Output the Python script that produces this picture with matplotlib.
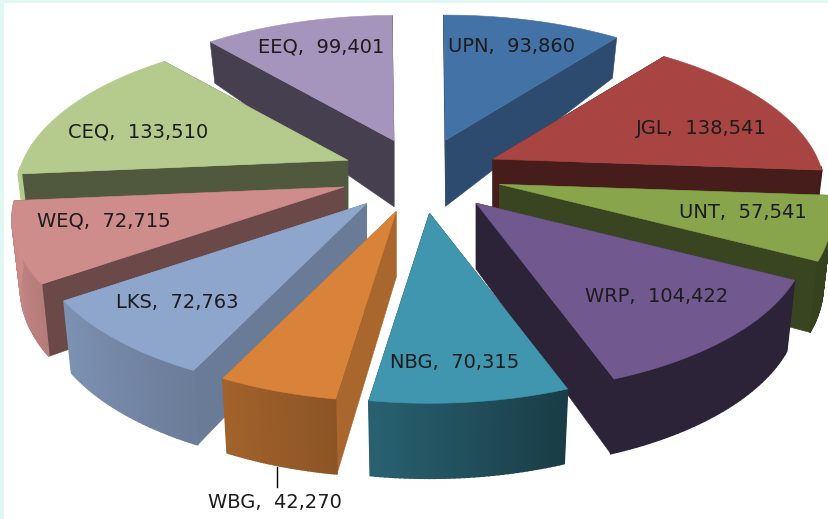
import numpy as np
from matplotlib import pyplot as plt
from matplotlib.colors import to_rgb
from matplotlib.patches import Polygon

categories = ['UPN', 'JGL', 'UNT', 'WRP', 'NBG', 'WBG', 'LKS', 'WEQ', 'CEQ', 'EEQ']
values = [93860, 138541, 57541, 104422, 70315, 42270, 72763, 72715, 133510, 99401]
colors = ['#4372a7', '#a84442', '#88a54b', '#71588f', '#3f96ae',
          '#d9833a', '#8fa6cc', '#ce8d8b', '#b5cb8e', '#a595bc']
# How dark the visible cut side of each slice is
face_shade = [0.66, 0.42, 0.42, 0.40, 0.40, 0.78, 0.74, 0.52, 0.44, 0.42]
# Label centres, in pixels
label_xy = [(512, 47), (701, 128), (743, 213), (657, 297), (455, 363),
            (275, 503), (177, 302), (104, 221), (138, 132), (321, 47)]

# Projection of the tilted pie, fitted by eye
center = (421, 174)
radius_x = 325
radius_y = 151
persp = 0.206
explode = 0.247
first_angle = -0.4


def project(theta):
    # Angle runs clockwise from 12 o'clock, result is pixels relative to apex
    x = np.sin(theta)
    y = -np.cos(theta)
    s = 1 / (1 - persp * y)
    return radius_x * x * s, radius_y * y * s


def depth(y):
    # Height of the pie on screen, grows towards the viewer
    return np.interp(y, [-1, -0.77, 0, 0.55, 1], [36, 41, 66, 72, 75])


def bottom(apex, dx, dy, y):
    return apex[0] + dx * 0.975, apex[1] + dy + depth(y)


def rim_shade(deg):
    return np.interp(deg, [118, 160, 189, 206, 236, 265], [0.40, 0.40, 0.65, 0.75, 0.88, 1.0])


def shaded(color, amount):
    return tuple(c * amount for c in to_rgb(color))


def add_poly(ax, points, color, lw=0.4):
    ax.add_patch(Polygon(points, closed=True, facecolor=color, edgecolor=color, linewidth=lw))


def draw_slice(ax, start, end, color, shade):
    mid = np.radians((start + end) / 2)
    # Pull the slice out of the middle along its own direction
    ex = explode * np.sin(mid)
    ey = -explode * np.cos(mid)
    s = 1 / (1 - persp * ey)
    apex = (center[0] + radius_x * ex * s, center[1] + radius_y * ey * s)

    # Cut sides first, the one further back goes underneath
    sides = sorted([start, end], key=lambda d: -np.cos(np.radians(d)))
    for deg in sides:
        th = np.radians(deg)
        dx, dy = project(th)
        points = [apex, (apex[0] + dx, apex[1] + dy),
                  bottom(apex, dx, dy, -np.cos(th)),
                  bottom(apex, 0, 0, 0)]
        add_poly(ax, points, shaded(color, shade))

    # Outer wall, only the part which faces us
    degs = np.linspace(start, end, 41)
    for d0, d1 in zip(degs[:-1], degs[1:]):
        t0, t1 = np.radians(d0), np.radians(d1)
        if -np.cos((t0 + t1) / 2) < 0.05:
            continue
        x0, y0 = project(t0)
        x1, y1 = project(t1)
        points = [(apex[0] + x0, apex[1] + y0), (apex[0] + x1, apex[1] + y1),
                  bottom(apex, x1, y1, -np.cos(t1)), bottom(apex, x0, y0, -np.cos(t0))]
        # Thicker edge so no seams show between the strips
        add_poly(ax, points, shaded(color, rim_shade((d0 + d1) / 2)), lw=1.2)

    # Top
    xs, ys = project(np.radians(degs))
    top = [apex] + [(apex[0] + x, apex[1] + y) for x, y in zip(xs, ys)]
    add_poly(ax, top, color)


fig = plt.figure(figsize=(8.29, 5.19), dpi=100, facecolor='#e0f7f3')
ax = fig.add_axes([4 / 829, 0, 825 / 829, 516 / 519])
ax.set_xlim(4, 829)
ax.set_ylim(519, 3)
ax.set_xticks([])
ax.set_yticks([])
for spine in ax.spines.values():
    spine.set_visible(False)

total = sum(values)
edges = first_angle + np.concatenate([[0], np.cumsum(values) / total * 360])
mids = (edges[:-1] + edges[1:]) / 2

# Back to front
order = np.argsort(-np.cos(np.radians(mids)))
for i in order:
    draw_slice(ax, edges[i], edges[i + 1], colors[i], face_shade[i])

# Leader line of the small slice
ax.plot([277, 277], [467, 487], color='black', linewidth=1)

for name, value, (x, y) in zip(categories, values, label_xy):
    ax.text(x, y, f'{name},  {value:,}', ha='center', va='center',
            fontsize=14, family='DejaVu Sans', color='#1c1c1c')

plt.savefig('out.png', dpi=100, facecolor=fig.get_facecolor())
